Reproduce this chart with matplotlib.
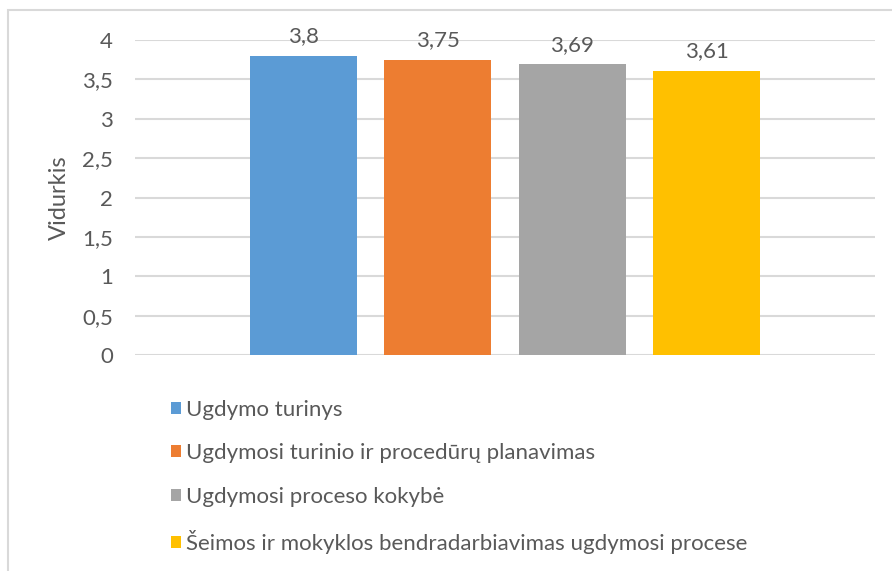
import numpy as np
import matplotlib
matplotlib.use("Agg")
import matplotlib.pyplot as plt
from matplotlib.patches import Patch, Rectangle

categorijos = ["Ugdymo turinys",
               "Ugdymosi turinio ir procedūrų planavimas",
               "Ugdymosi proceso kokybė",
               "Šeimos ir mokyklos bendradarbiavimas ugdymosi procese"]
vidurkiai = [3.8, 3.75, 3.69, 3.61]
etiketes = ["3,8", "3,75", "3,69", "3,61"]
y_ticks = [0, 0.5, 1, 1.5, 2, 2.5, 3, 3.5, 4]
y_tick_labels = ["0", "0,5", "1", "1,5", "2", "2,5", "3", "3,5", "4"]
spalvos = ["#5B9BD5", "#ED7D31", "#A5A5A5", "#FFC000"]

tekstas = "#595959"
plt.rcParams['font.family'] = ['Lato', 'DejaVu Sans']

W, H = 892, 571
fig = plt.figure(figsize=(W / 100, H / 100), dpi=100)
ax = fig.add_axes([135 / W, (H - 355) / H, (875 - 135) / W, (355 - 40) / H])

x = np.arange(len(vidurkiai))
bars = ax.bar(x, vidurkiai, width=0.795, color=spalvos, zorder=3)
for b, lab in zip(bars, etiketes):
    ax.annotate(lab, (b.get_x() + b.get_width() / 2, b.get_height()),
                xytext=(0, 7), textcoords="offset points",
                ha="center", va="bottom", fontsize=16, color=tekstas)

ax.set_xlim(-1.253, 4.253)
ax.set_ylim(0, 4)
ax.set_yticks(y_ticks)
ax.set_yticklabels(y_tick_labels)
ax.set_xticks([])
ax.tick_params(axis="y", length=0, pad=16, labelsize=16, labelcolor=tekstas)
ax.grid(axis="y", color="#D9D9D9", linewidth=1.5, zorder=0)
for s in ax.spines.values():
    s.set_visible(False)

fig.text(59 / W, 1 - 198 / H, "Vidurkis", rotation=90, ha="center", va="center",
         fontsize=17, color=tekstas)

handles = [Patch(facecolor=c, edgecolor="none") for c in spalvos]
fig.legend(handles, categorijos, loc="upper left",
           bbox_to_anchor=(162 / W, 1 - 391 / H), frameon=False,
           fontsize=16, labelcolor=tekstas, handlelength=0.45, handleheight=0.45,
           handletextpad=0.25, labelspacing=1.05, borderaxespad=0)

# light chart frame (only left and top edges visible)
fig.add_artist(Rectangle((8 / W, -0.1), 1.2, 1.1 - 10 / H, transform=fig.transFigure,
                         facecolor="none", edgecolor="#D9D9D9", linewidth=1.5))

fig.savefig("out.png", dpi=100)
